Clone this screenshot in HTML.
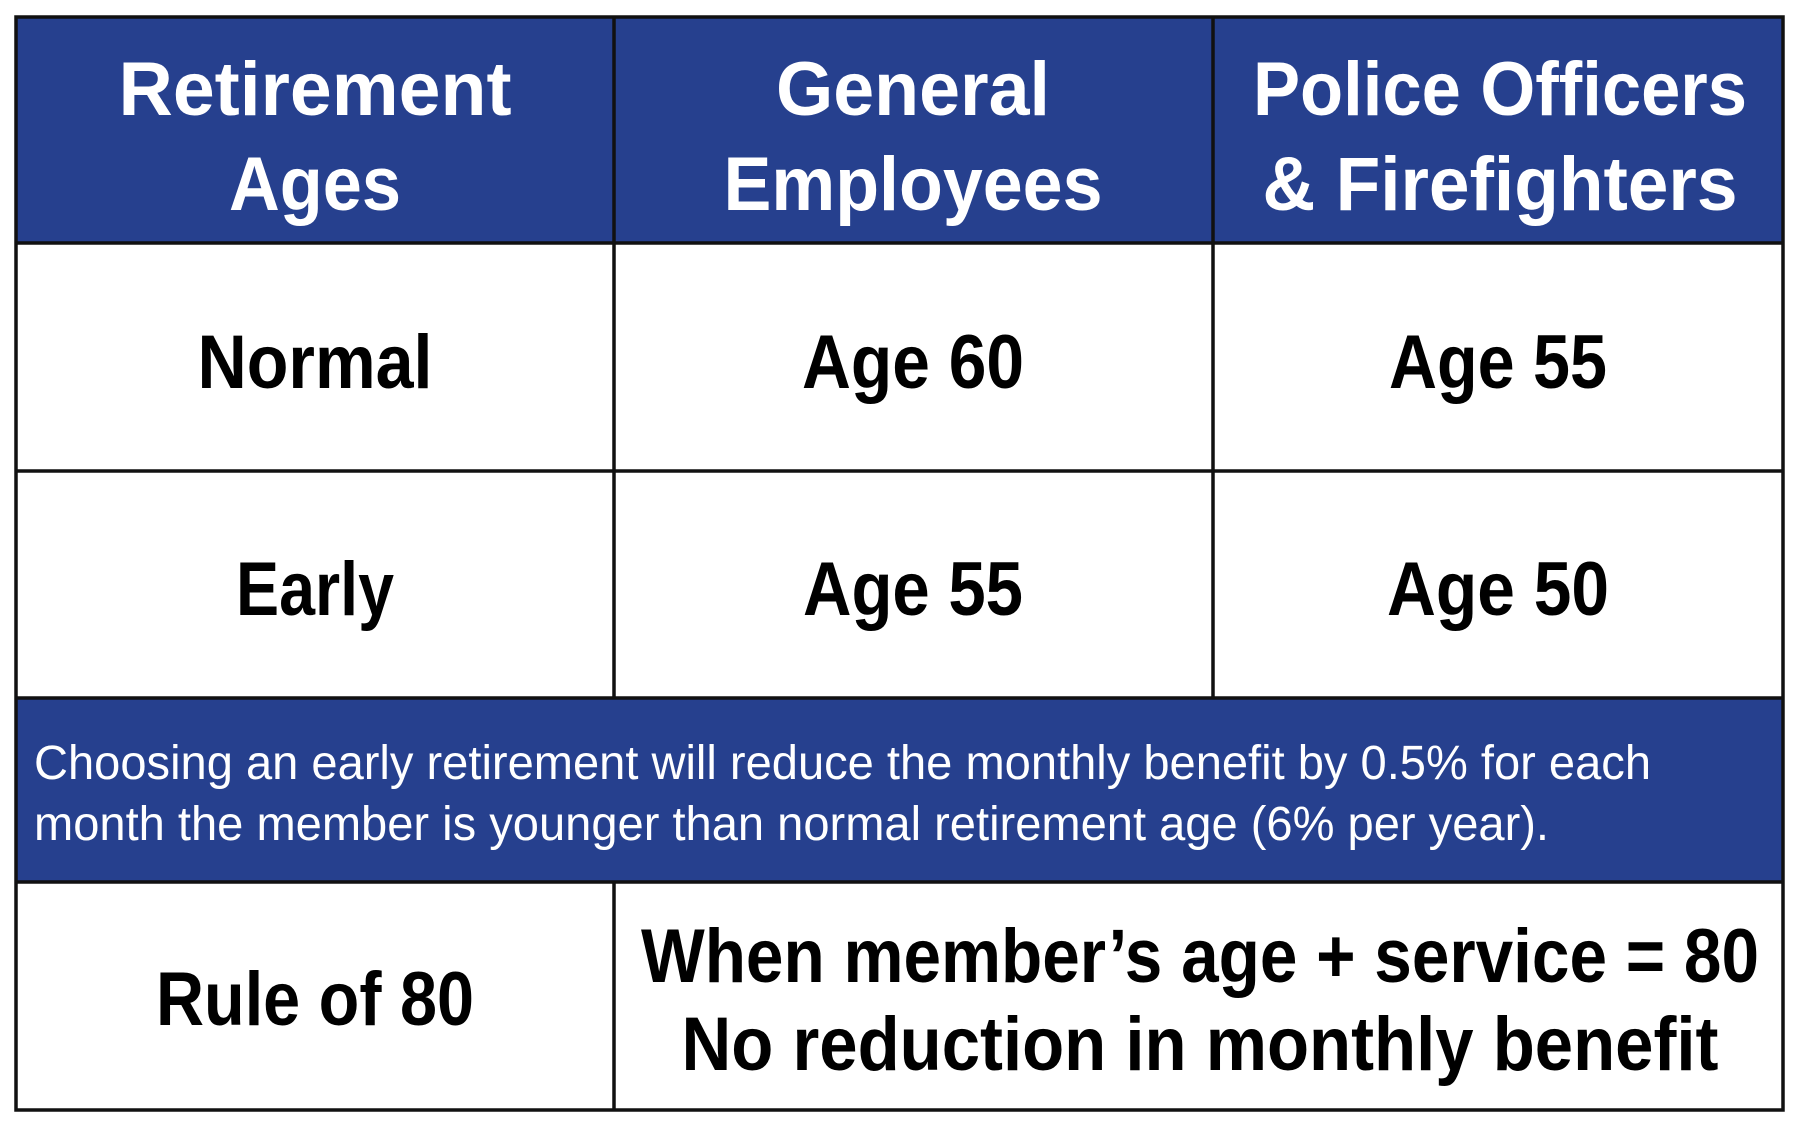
<!DOCTYPE html>
<html><head><meta charset="utf-8"><style>html,body{margin:0;padding:0;background:#fff}svg{display:block}</style></head>
<body>
<svg width="1800" height="1125" viewBox="0 0 1800 1125" xmlns="http://www.w3.org/2000/svg">
<rect x="0" y="0" width="1800" height="1125" fill="#fff"/>
<rect x="16" y="17" width="1767" height="226" fill="#26408e"/>
<rect x="16" y="698" width="1767" height="184" fill="#26408e"/>
<g stroke="#111" stroke-width="3.5" fill="none">
<rect x="16" y="17" width="1767" height="1093"/>
<line x1="16" y1="243" x2="1783" y2="243"/>
<line x1="16" y1="471" x2="1783" y2="471"/>
<line x1="16" y1="698" x2="1783" y2="698"/>
<line x1="16" y1="882" x2="1783" y2="882"/>
<line x1="614" y1="17" x2="614" y2="698"/>
<line x1="1213" y1="17" x2="1213" y2="698"/>
<line x1="614" y1="882" x2="614" y2="1110"/>
</g>
<g font-family="Liberation Sans, sans-serif" font-weight="bold" font-size="76" text-anchor="middle" lengthAdjust="spacingAndGlyphs">
<g fill="#fff">
<text x="315" y="115" textLength="393" lengthAdjust="spacingAndGlyphs">Retirement</text>
<text x="315" y="210" textLength="172" lengthAdjust="spacingAndGlyphs">Ages</text>
<text x="913" y="115" textLength="274" lengthAdjust="spacingAndGlyphs">General</text>
<text x="913" y="210" textLength="379" lengthAdjust="spacingAndGlyphs">Employees</text>
<text x="1500" y="115" textLength="494" lengthAdjust="spacingAndGlyphs">Police Officers</text>
<text x="1500" y="210" textLength="475" lengthAdjust="spacingAndGlyphs">&amp; Firefighters</text>
</g>
<g fill="#000">
<text x="315" y="388" textLength="235" lengthAdjust="spacingAndGlyphs">Normal</text>
<text x="913" y="388" textLength="222" lengthAdjust="spacingAndGlyphs">Age 60</text>
<text x="1498" y="388" textLength="218" lengthAdjust="spacingAndGlyphs">Age 55</text>
<text x="315" y="615" textLength="158" lengthAdjust="spacingAndGlyphs">Early</text>
<text x="913" y="615" textLength="220" lengthAdjust="spacingAndGlyphs">Age 55</text>
<text x="1498" y="615" textLength="222" lengthAdjust="spacingAndGlyphs">Age 50</text>
<text x="315" y="1025" textLength="318" lengthAdjust="spacingAndGlyphs">Rule of 80</text>
<text x="1200" y="982" textLength="1118" lengthAdjust="spacingAndGlyphs">When member’s age + service = 80</text>
<text x="1200" y="1070" textLength="1037" lengthAdjust="spacingAndGlyphs">No reduction in monthly benefit</text>
</g>
</g>
<g font-family="Liberation Sans, sans-serif" font-size="48" fill="#fff">
<text x="34" y="779" textLength="1617" lengthAdjust="spacingAndGlyphs">Choosing an early retirement will reduce the monthly benefit by 0.5% for each</text>
<text x="34" y="840" textLength="1515" lengthAdjust="spacingAndGlyphs">month the member is younger than normal retirement age (6% per year).</text>
</g>
</svg>
</body></html>
